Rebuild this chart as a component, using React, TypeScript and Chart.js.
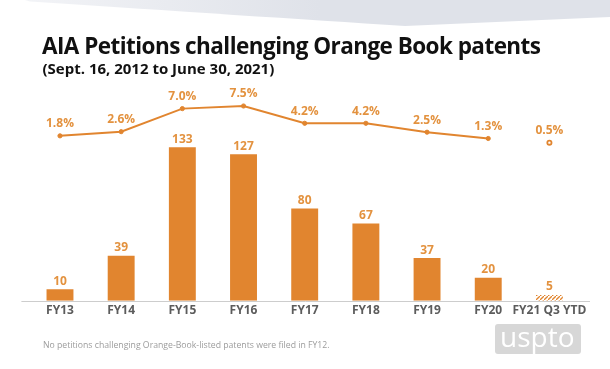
import React, { useEffect, useRef } from "react";
import { Chart, registerables } from "chart.js";

Chart.register(...registerables);

const categories = ["FY13", "FY14", "FY15", "FY16", "FY17", "FY18", "FY19", "FY20", "FY21 Q3 YTD"];
const petitions = [10, 39, 133, 127, 80, 67, 37, 20, 5];
const percentShare = [1.8, 2.6, 7.0, 7.5, 4.2, 4.2, 2.5, 1.3, 0.5];

const ORANGE = "#E1852F";
const ORANGE_TEXT = "#E3923F";
const FONT = "'Open Sans', 'Noto Sans', sans-serif";

function makeHatch(): CanvasPattern | string {
  const c = document.createElement("canvas");
  c.width = 4;
  c.height = 4;
  const g = c.getContext("2d");
  if (!g) return ORANGE;
  g.fillStyle = "#ffffff";
  g.fillRect(0, 0, 4, 4);
  g.strokeStyle = ORANGE;
  g.lineWidth = 1.3;
  g.beginPath();
  g.moveTo(-1, 5);
  g.lineTo(5, -1);
  g.stroke();
  const p = g.createPattern(c, "repeat");
  return p || ORANGE;
}

const swooshPlugin = {
  id: "swoosh",
  beforeDraw(chart: any) {
    const ctx = chart.ctx;
    ctx.save();
    const grad = ctx.createLinearGradient(0, 0, 320, 0);
    grad.addColorStop(0, "#f4f5f8");
    grad.addColorStop(1, "#dfe2e9");
    ctx.fillStyle = grad;
    ctx.beginPath();
    ctx.moveTo(25, 0);
    ctx.lineTo(30, 1.5);
    ctx.quadraticCurveTo(250, 16, 405, 26);
    ctx.lineTo(610, 17);
    ctx.lineTo(610, 0);
    ctx.closePath();
    ctx.fill();
    ctx.restore();
  },
};

const baselinePlugin = {
  id: "baseline",
  beforeDatasetsDraw(chart: any) {
    const { ctx, chartArea } = chart;
    ctx.save();
    ctx.strokeStyle = "#cdcdcd";
    ctx.lineWidth = 1;
    ctx.beginPath();
    const y = Math.round(chartArea.bottom) + 0.5;
    ctx.moveTo(chartArea.left - 8, y);
    ctx.lineTo(chartArea.right + 10, y);
    ctx.stroke();
    ctx.restore();
  },
};

const valueLabelPlugin = {
  id: "valueLabels",
  afterDatasetsDraw(chart: any) {
    const ctx = chart.ctx;
    ctx.save();
    ctx.fillStyle = ORANGE_TEXT;
    ctx.textAlign = "center";
    ctx.textBaseline = "middle";
    ctx.font = `bold 12px ${FONT}`;
    const barMeta = chart.getDatasetMeta(0);
    barMeta.data.forEach((el: any, i: number) => {
      ctx.fillText(String(petitions[i]), el.x, el.y - 8);
    });
    const lineMeta = chart.getDatasetMeta(1);
    lineMeta.data.forEach((el: any, i: number) => {
      ctx.fillText(percentShare[i].toFixed(1) + "%", el.x, el.y - 12);
    });
    ctx.restore();
  },
};

export default function App() {
  const canvasRef = useRef<HTMLCanvasElement | null>(null);

  useEffect(() => {
    if (!canvasRef.current) return;
    const hatch = makeHatch();
    const n = categories.length;
    const barColors = petitions.map((_, i) => (i === n - 1 ? hatch : ORANGE));
    const pointFill = percentShare.map((_, i) => (i === n - 1 ? "#ffffff" : ORANGE));
    const pointBorderW = percentShare.map((_, i) => (i === n - 1 ? 1.8 : 1));
    const pointR = percentShare.map(() => 2.1);

    const chart = new Chart(canvasRef.current, {
      type: "bar",
      data: {
        labels: categories,
        datasets: [
          {
            type: "bar",
            data: petitions,
            backgroundColor: barColors as any,
            borderWidth: 0,
            barPercentage: 0.44,
            categoryPercentage: 1,
            yAxisID: "y",
            order: 2,
          },
          {
            type: "line",
            data: percentShare,
            borderColor: ORANGE,
            borderWidth: 2,
            pointRadius: pointR,
            pointBackgroundColor: pointFill,
            pointBorderColor: ORANGE,
            pointBorderWidth: pointBorderW,
            yAxisID: "y1",
            order: 1,
            segment: {
              borderColor: (c: any) => (c.p1DataIndex === n - 1 ? "rgba(0,0,0,0)" : ORANGE),
            },
          } as any,
        ],
      },
      options: {
        responsive: false,
        animation: false,
        layout: { padding: { left: 29.4, right: 30, top: 100, bottom: 48.2 } },
        plugins: {
          legend: { display: false },
          tooltip: { enabled: false },
          title: { display: false },
        },
        scales: {
          x: {
            offset: true,
            grid: { display: false, drawTicks: false },
            border: { display: false },
            ticks: {
              padding: 2.5,
              color: "#5c5c5c",
              font: { family: FONT, size: 12, weight: "bold" },
              maxRotation: 0,
              autoSkip: false,
            },
            afterFit: (scale: any) => {
              scale.height = 20;
            },
          },
          y: { display: false, min: 0, max: 174 },
          y1: { display: false, min: -29.68, max: 8.645 },
        },
      },
      plugins: [swooshPlugin, baselinePlugin, valueLabelPlugin],
    });
    return () => chart.destroy();
  }, []);

  return (
    <div style={{ position: "absolute", left: 0, top: 0, width: 610, height: 369, background: "#ffffff", overflow: "hidden" }}>
      <canvas ref={canvasRef} width={610} height={369} style={{ position: "absolute", left: 0, top: 0, width: 610, height: 369 }} />
      <div style={{ position: "absolute", left: 42, top: 34.5, fontFamily: FONT, fontWeight: 700, fontSize: 22.5, lineHeight: 1, color: "#111111", whiteSpace: "nowrap", letterSpacing: -0.55 }}>
        AIA Petitions challenging Orange Book patents
      </div>
      <div style={{ position: "absolute", left: 42.5, top: 60.7, fontFamily: FONT, fontWeight: 700, fontSize: 15, lineHeight: 1, color: "#111111", whiteSpace: "nowrap" }}>
        (Sept. 16, 2012 to June 30, 2021)
      </div>
      <div style={{ position: "absolute", left: 43, top: 340.5, fontFamily: FONT, fontWeight: 400, fontSize: 8.7, lineHeight: 1, color: "#9c9c9c", whiteSpace: "nowrap" }}>
        No petitions challenging Orange-Book-listed patents were filed in FY12.
      </div>
      <div style={{ position: "absolute", left: 495, top: 324, width: 86, height: 29.5, background: "#d7d7d7", borderRadius: 3, overflow: "hidden" }}>
        <span style={{ position: "absolute", left: 5, top: -2.5, fontFamily: FONT, fontWeight: 400, fontSize: 28, lineHeight: 1, color: "#ffffff", whiteSpace: "nowrap" }}>
          uspto
        </span>
      </div>
    </div>
  );
}
